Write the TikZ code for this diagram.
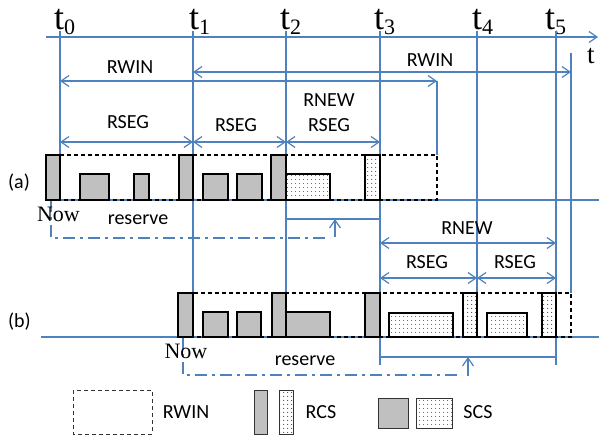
\documentclass[tikz,border=0pt]{standalone}
\usepackage{fontspec}
\setmainfont{Liberation Serif}
\newfontfamily\calfont{Carlito}
\usetikzlibrary{arrows.meta,patterns.meta}
\definecolor{ln}{HTML}{4F81BD}
\definecolor{gr}{HTML}{C0C0C0}
\begin{document}
\begin{tikzpicture}[x=1pt,y=-1pt,
  bl/.style={draw=ln, line width=1.2pt},
  tk/.style={draw=ln, line width=1.8pt},
  dar/.style={bl, {Straight Barb[length=8pt,width=11pt]}-{Straight Barb[length=8pt,width=11pt]}},
  rar/.style={bl, -{Straight Barb[length=8pt,width=11pt]}},
  win/.style={draw=black, line width=1.1pt, dash pattern=on 4pt off 3pt},
  lwin/.style={draw=black!80, line width=0.8pt, dash pattern=on 4pt off 3pt},
  gbox/.style={draw=black, line width=1.2pt, fill=gr},
  dbox/.style={draw=black, line width=1.2pt, preaction={fill=white}, pattern={Dots[distance=4pt,radius=0.55pt]}},
  lgbox/.style={draw=black!80, line width=1pt, fill=gr},
  ldbox/.style={draw=black!80, line width=1pt, preaction={fill=white}, pattern={Dots[distance=4pt,radius=0.55pt]}},
  lbl/.style={font=\calfont\fontsize{20}{20}\selectfont, inner sep=0pt},
  tim/.style={font=\fontsize{22}{22}\selectfont, inner sep=0pt, anchor=base},
  tl/.style={inner sep=0pt, anchor=base west},
  dd/.style={draw=ln, line width=1.2pt, dash pattern=on 12pt off 5pt on 3pt off 5pt}
]
\useasboundingbox (0,0) rectangle (599,439);

% time labels
\newcommand{\tlab}[1]{{\fontsize{36}{36}\selectfont t}{\fontsize{22}{22}\selectfont\raisebox{-5pt}{#1}}}
\node[tl] (lt0) at (54,29) {\tlab{0}};
\node[tl] (lt1) at (189,29) {\tlab{1}};
\node[tl] (lt2) at (280,29) {\tlab{2}};
\node[tl] (lt3) at (374,29) {\tlab{3}};
\node[tl] (lt4) at (472,29) {\tlab{4}};
\node[tl] (lt5) at (545,29) {\tlab{5}};
\node[tl, font=\fontsize{27}{27}\selectfont] (ltt) at (587,63) {t};

% axis
\coordinate (ax0) at (46,37); \coordinate (ax1) at (598,37);
\draw[rar] (ax0) -- (ax1);

% vertical time lines
\coordinate (v0a) at (60,31);  \coordinate (v0b) at (60,200);
\coordinate (v1a) at (193,31); \coordinate (v1b) at (193,293);
\coordinate (v2a) at (286,31); \coordinate (v2b) at (286,293);
\coordinate (v3a) at (380,31); \coordinate (v3b) at (380,365);
\coordinate (v4a) at (477,31); \coordinate (v4b) at (477,293);
\coordinate (v5a) at (556,31); \coordinate (v5b) at (556,365);
\coordinate (w1a) at (437,81); \coordinate (w1b) at (437,155);
\coordinate (w2a) at (571,53); \coordinate (w2b) at (571,293);
\draw[bl] (v0a) -- (v0b);
\draw[bl] (v1a) -- (v1b);
\draw[bl] (v2a) -- (v2b);
\draw[bl] (v3a) -- (v3b);
\draw[tk] (v4a) -- (v4b);
\draw[bl] (v5a) -- (v5b);
\draw[bl] (w1a) -- (w1b);
\draw[bl] (w2a) -- (w2b);

% baselines
\coordinate (ba0) at (46,200);  \coordinate (ba1) at (599,200);
\coordinate (bb0) at (41,337);  \coordinate (bb1) at (599,337);
\draw[bl] (ba0) -- (ba1);
\draw[bl] (bb0) -- (bb1);

% RWIN arrows
\coordinate (ra0) at (60,81);  \coordinate (ra1) at (437,81);
\coordinate (rb0) at (193,72); \coordinate (rb1) at (571,72);
\draw[dar] (ra0) -- (ra1);
\draw[dar] (rb0) -- (rb1);
\node[lbl] (rwa) at (130,67) {RWIN};
\node[lbl] (rwb) at (430,60) {RWIN};

% RSEG arrows (a)
\coordinate (sa0) at (60,142); \coordinate (sa1) at (193,142);
\coordinate (sa2) at (286,142); \coordinate (sa3) at (380,142);
\draw[dar] (sa0) -- (sa1);
\draw[dar] (sa1) -- (sa2);
\draw[dar] (sa2) -- (sa3);
\node[lbl] (sga1) at (128,122) {RSEG};
\node[lbl] (sga2) at (236,125) {RSEG};
\node[lbl] (rna) at (329,100) {RNEW};
\node[lbl] (sga3) at (329,125) {RSEG};

% RNEW / RSEG arrows (b)
\coordinate (nb0) at (380,243); \coordinate (nb1) at (556,243);
\coordinate (sb0) at (380,278); \coordinate (sb1) at (477,278); \coordinate (sb2) at (556,278);
\draw[dar] (nb0) -- (nb1);
\draw[dar] (sb0) -- (sb1);
\draw[dar] (sb1) -- (sb2);
\node[lbl] (rnb) at (467,228) {RNEW};
\node[lbl] (sgb1) at (427,262) {RSEG};
\node[lbl] (sgb2) at (515,262) {RSEG};

% reserve (a)
\coordinate (qa0) at (286,219); \coordinate (qa1) at (380,219);
\draw[bl] (qa0) -- (qa1);
\coordinate (da0) at (51,200); \coordinate (da1) at (51,238); \coordinate (da2) at (330,238);
\draw[dd] (da0) -- (da1) -- (da2);
\coordinate (pa0) at (335,237); \coordinate (pa1) at (335,219);
\draw[rar] (pa0) -- (pa1);
\node[lbl] (resa) at (138,220) {reserve};
\node[tim] (nowa) at (58.5,221) {Now};

% reserve (b)
\coordinate (qb0) at (380,357); \coordinate (qb1) at (556,357);
\draw[bl] (qb0) -- (qb1);
\coordinate (db0) at (183,337); \coordinate (db1) at (183,375); \coordinate (db2) at (460,375);
\draw[dd] (db0) -- (db1) -- (db2);
\coordinate (pb0) at (468,376); \coordinate (pb1) at (468,357);
\draw[rar] (pb0) -- (pb1);
\node[lbl] (resb) at (305,361) {reserve};
\node[tim] (nowb) at (186,358) {Now};

% row labels
\node[lbl] (la) at (19,183) {(a)};
\node[lbl] (lb) at (19.5,322) {(b)};

% window (a)
\draw[win] (46,155) rectangle (437,200);
\draw[gbox] (46,155) rectangle (60,200);
\draw[gbox] (80,174) rectangle (109,200);
\draw[gbox] (134,174) rectangle (149,200);
\draw[gbox] (179,155) rectangle (193,200);
\draw[gbox] (203,174) rectangle (228,200);
\draw[gbox] (237,174) rectangle (262,200);
\draw[gbox] (271,155) rectangle (286,200);
\draw[dbox] (286,174) rectangle (330,200);
\draw[dbox] (365,155) rectangle (380,200);

% window (b)
\draw[win] (178,293) rectangle (571,337);
\draw[gbox] (178,293) rectangle (193,337);
\draw[gbox] (203,312) rectangle (228,337);
\draw[gbox] (237,312) rectangle (261,337);
\draw[gbox] (272,293) rectangle (286,337);
\draw[gbox] (286,312) rectangle (330,337);
\draw[gbox] (365,293) rectangle (380,337);
\draw[dbox] (389,313) rectangle (453,337);
\draw[dbox] (463,293) rectangle (477,337);
\draw[dbox] (487,313) rectangle (527,337);
\draw[dbox] (542,293) rectangle (556,337);

% legend
\draw[lwin] (73,390) rectangle (152,434);
\node[lbl] (lg1) at (186,412) {RWIN};
\draw[lgbox] (254,390) rectangle (267,434);
\draw[ldbox] (279,390) rectangle (293,434);
\node[lbl] (lg2) at (321,412) {RCS};
\draw[lgbox] (378,398) rectangle (408,428);
\draw[ldbox] (416,398) rectangle (452,428);
\node[lbl] (lg3) at (478,412) {SCS};
\end{tikzpicture}
\end{document}
